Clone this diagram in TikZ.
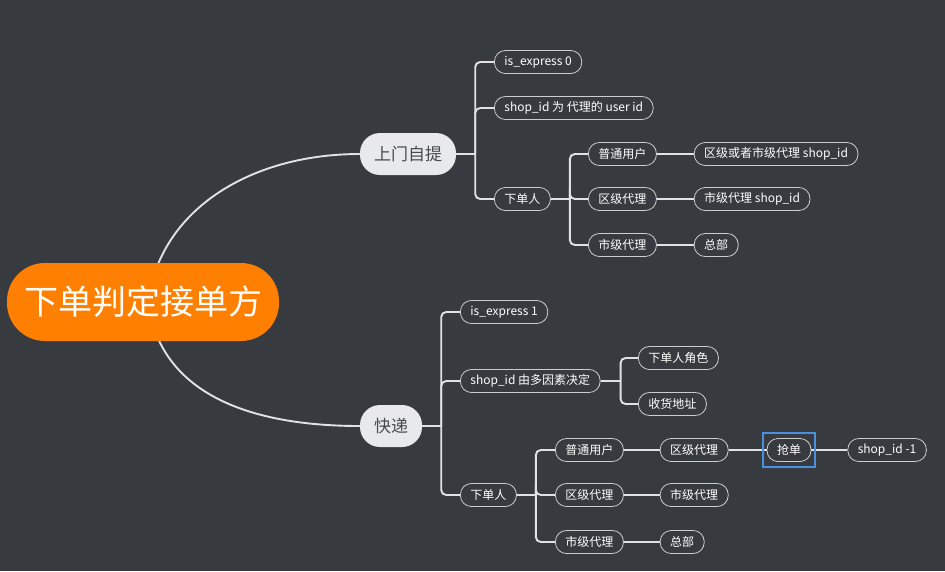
\documentclass[tikz,border=0pt]{standalone}
\usepackage{fontspec}
\setmainfont{Noto Sans CJK SC}
\usepackage{tikz}
\usetikzlibrary{positioning,fit}
\definecolor{slate}{RGB}{55,58,63}
\definecolor{tangerine}{RGB}{255,128,0}
\definecolor{mist}{RGB}{232,233,235}
\definecolor{ink}{RGB}{72,74,78}
\definecolor{wire}{RGB}{226,226,228}
\definecolor{rim}{RGB}{205,205,207}
\definecolor{pick}{RGB}{74,144,226}
\pgfdeclarelayer{canvas}
\pgfdeclarelayer{links}
\pgfsetlayers{canvas,links,main}

\begin{document}
\begin{tikzpicture}[
  x=1pt,y=-1pt,
  root/.style={rectangle,rounded corners=38pt,fill=tangerine,text=white,
               font=\fontsize{34}{38}\selectfont,inner xsep=17pt,minimum height=78pt},
  topic/.style={rectangle,rounded corners=20pt,fill=mist,text=ink,
                font=\fontsize{17}{20}\selectfont,inner xsep=14pt,minimum height=42pt},
  pill/.style={rectangle,rounded corners=11pt,draw=rim,line width=0.8pt,fill=slate,
               text=white,font=\fontsize{12}{14}\selectfont,inner xsep=10pt,
               inner ysep=2pt,minimum height=23pt,anchor=west},
  ln/.style={wire,line width=1.9pt,rounded corners=5pt},
  frame/.style={draw=pick,line width=1.3pt,inner xsep=3.5pt,inner ysep=5pt},
  node distance=37pt,
]
  \useasboundingbox (0,0) rectangle (945,571);
  \begin{pgfonlayer}{canvas}
    \fill[slate] (0,0) rectangle (945,571);
  \end{pgfonlayer}

  \node[root](goal) at (143,302){下单判定接单方};
  \node[topic](pickup) at (408,154){上门自提};
  \node[topic](ship) at (391,426){快递};

  % 上门自提
  \node[pill](p1) at (494,62){is\_express 0};
  \node[pill](p2) at (494,108){shop\_id 为 代理的 user id};
  \node[pill](p3) at (494,199){下单人};
  \node[pill](p31) at (588,154){普通用户};
  \node[pill](p32) at (588,199){区级代理};
  \node[pill](p33) at (588,245){市级代理};
  \node[pill,right=of p31](p311){区级或者市级代理 shop\_id};
  \node[pill,right=of p32](p321){市级代理 shop\_id};
  \node[pill,right=of p33](p331){总部};

  % 快递
  \node[pill](e1) at (460,312){is\_express 1};
  \node[pill](e2) at (460,381){shop\_id 由多因素决定};
  \node[pill](e3) at (460,495){下单人};
  \node[pill](e21) at (638,358){下单人角色};
  \node[pill](e22) at (638,404){收货地址};
  \node[pill](e31) at (555,450){普通用户};
  \node[pill](e32) at (555,495){区级代理};
  \node[pill](e33) at (555,542){市级代理};
  \node[pill,right=36pt of e31](e311){区级代理};
  \node[pill,right=36pt of e32](e321){市级代理};
  \node[pill,right=36pt of e33](e331){总部};
  \node[pill,right=38pt of e311](grab){抢单};
  \node[pill,right=36pt of grab](e3111){shop\_id -1};
  \node[frame,fit=(grab)](grabsel){};

  \begin{pgfonlayer}{links}
    \draw[ln]([xshift=5pt]goal.center) .. controls (160,210) and (250,154) .. (pickup.west);
    \draw[ln]([xshift=5pt]goal.center) .. controls (160,394) and (250,426) .. (ship.west);

    \draw[ln](pickup.east) -- ++(19,0) coordinate(jp);
    \foreach \c in {p1,p2,p3} \draw[ln](jp) |- (\c.west);
    \draw[ln](p3.east) -- ++(19,0) coordinate(jp3);
    \foreach \c in {p31,p32,p33} \draw[ln](jp3) |- (\c.west);
    \draw[ln](p31) -- (p311);
    \draw[ln](p32) -- (p321);
    \draw[ln](p33) -- (p331);

    \draw[ln](ship.east) -- ++(19,0) coordinate(js);
    \foreach \c in {e1,e2,e3} \draw[ln](js) |- (\c.west);
    \draw[ln](e2.east) -- ++(20,0) coordinate(js2);
    \foreach \c in {e21,e22} \draw[ln](js2) |- (\c.west);
    \draw[ln](e3.east) -- ++(19,0) coordinate(js3);
    \foreach \c in {e31,e32,e33} \draw[ln](js3) |- (\c.west);
    \draw[ln](e31) -- (e311);
    \draw[ln](e32) -- (e321);
    \draw[ln](e33) -- (e331);
    \draw[ln](e311) -- (grab);
    \draw[ln](grab) -- (e3111);
  \end{pgfonlayer}
\end{tikzpicture}
\end{document}
